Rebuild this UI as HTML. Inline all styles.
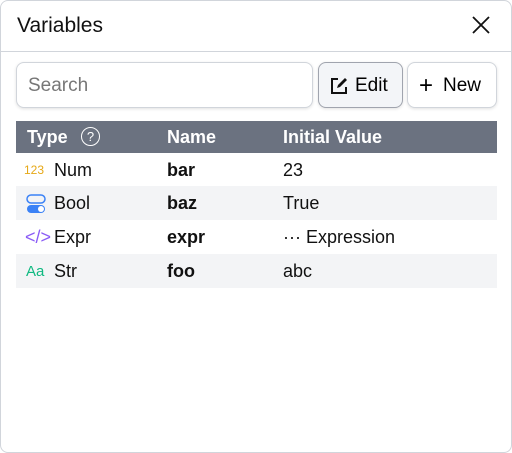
<!DOCTYPE html><html><head><style>
body{margin:0;width:512px;height:453px;background:#fff;font-family:"Liberation Sans",sans-serif;overflow:hidden;position:relative}
.panel{position:absolute;left:0;top:0;width:510px;height:451px;border:1px solid #d1d5db;border-radius:8px}
.t{position:absolute;font-size:21px;color:#111}
.box{position:absolute;border:1px solid #d1d5db;border-radius:8px;box-shadow:0 1px 3px rgba(0,0,0,.12);background:#fff;box-sizing:border-box}
.row{position:absolute;left:16px;width:481px;height:34px;font-size:18px;color:#111}
.row span{position:absolute;top:7px}
</style></head><body>
<div class="panel"></div>
<div class="t" style="left:17px;top:14px">Variables</div>
<svg style="position:absolute;left:471px;top:15px" width="20" height="20"><path d="M2 2L18 18M18 2L2 18" stroke="#111" stroke-width="1.8"/></svg>
<div style="position:absolute;left:1px;top:51px;width:510px;height:1px;background:#d1d5db"></div>
<div class="box" style="left:16px;top:62px;width:297px;height:46px"><span style="position:absolute;left:11px;top:12px;font-size:19px;color:#777">Search</span></div>
<div class="box" style="left:318px;top:62px;width:85px;height:46px;background:#f3f5f8;border-color:#a0a4ae"><svg style="position:absolute;left:10px;top:13px" width="20" height="20"><path d="M9 3H3v14h14v-6" fill="none" stroke="#111" stroke-width="2"/><path d="M8 12l1-3 7-7 2 2-7 7z" fill="#111"/></svg><span style="position:absolute;left:36px;top:12px;font-size:19px">Edit</span></div>
<div class="box" style="left:407px;top:62px;width:90px;height:46px"><span style="position:absolute;left:11px;top:9px;font-size:24px;font-weight:300">+</span><span style="position:absolute;left:35px;top:12px;font-size:19px">New</span></div>
<div class="row" style="top:121px;height:32px;background:#6b7280;color:#fff;font-weight:bold"><span style="left:11px;top:6px">Type</span><span style="left:65px;top:6px;width:17px;height:17px;border:1.5px solid #fff;border-radius:50%;font-size:13px;text-align:center;line-height:17px;font-weight:normal">?</span><span style="left:151px;top:6px">Name</span><span style="left:267px;top:6px">Initial Value</span></div>
<div class="row" style="top:153px"><span style="left:8px;top:10px;font-size:12px;color:#e6a817">123</span><span style="left:38px">Num</span><span style="left:151px;font-weight:bold">bar</span><span style="left:267px">23</span></div>
<div class="row" style="top:186px;background:#f3f4f6"><svg style="position:absolute;left:10px;top:8px" width="20" height="20"><rect x="1" y="1" width="18" height="8" rx="4" fill="none" stroke="#3b82f6" stroke-width="1.5"/><rect x="1" y="11" width="18" height="8" rx="4" fill="#3b82f6"/><circle cx="15" cy="15" r="3" fill="#fff"/></svg><span style="left:38px">Bool</span><span style="left:151px;font-weight:bold">baz</span><span style="left:267px">True</span></div>
<div class="row" style="top:220px"><span style="left:9px;color:#8b5cf6">&lt;/&gt;</span><span style="left:38px">Expr</span><span style="left:151px;font-weight:bold">expr</span><span style="left:267px">··· Expression</span></div>
<div class="row" style="top:254px;background:#f3f4f6"><span style="left:10px;top:9px;font-size:15px;color:#10b981">Aa</span><span style="left:38px">Str</span><span style="left:151px;font-weight:bold">foo</span><span style="left:267px">abc</span></div>
</body></html>
